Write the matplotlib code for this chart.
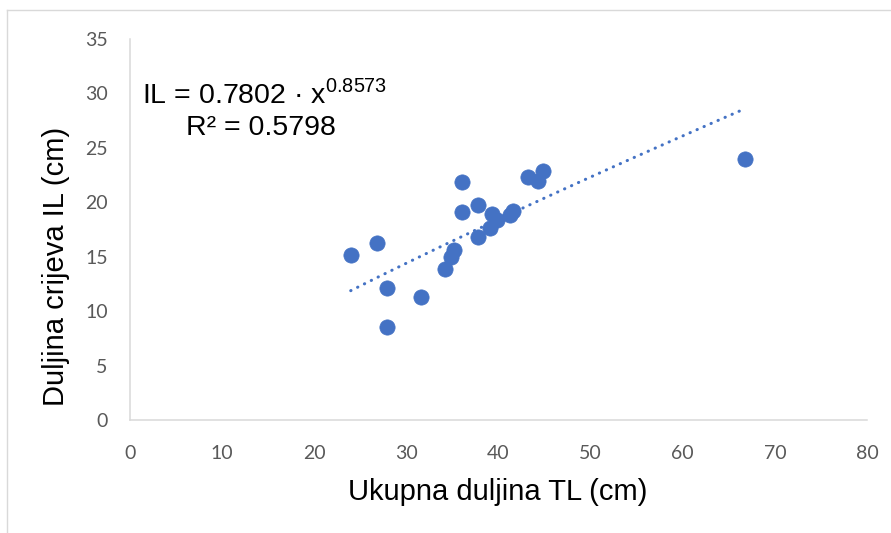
import numpy as np
import matplotlib
matplotlib.use("Agg")
import matplotlib.pyplot as plt
from matplotlib.lines import Line2D

# total length TL (cm) and intestine length IL (cm)
tl = [23.96, 26.85, 27.94, 27.87, 31.56, 34.17, 34.82, 35.18, 36.08, 36.08,
      37.79, 37.79, 39.05, 39.27, 39.82, 41.26, 41.62, 43.21, 44.30, 44.84, 66.78]
il = [15.16, 16.29, 12.15, 8.57, 11.33, 13.84, 14.95, 15.62, 21.89, 19.08,
      19.75, 16.84, 17.67, 18.92, 18.37, 18.83, 19.23, 22.30, 21.98, 22.90, 23.98]

# power trendline coefficients shown on the chart
coef_a = 0.7802
coef_b = 0.8573
r2 = 0.5798

x_ticks = [0, 10, 20, 30, 40, 50, 60, 70, 80]
y_ticks = [0, 5, 10, 15, 20, 25, 30, 35]

blue = "#4472C4"
grey_axis = "#d9d9d9"
grey_text = "#595959"

plt.rcParams['mathtext.fontset'] = 'custom'
plt.rcParams['mathtext.rm'] = 'Liberation Sans'

fig = plt.figure(figsize=(8.91, 5.33), dpi=100)
ax = fig.add_axes([130 / 891, 1 - 420 / 533, 737 / 891, 381 / 533])

# scatter points
ax.scatter(tl, il, s=121, color=blue, edgecolors=blue, linewidths=0.5, zorder=3)

# dotted power trendline
xs = np.linspace(min(tl), max(tl), 200)
ax.plot(xs, coef_a * xs ** coef_b, color=blue, lw=2.2,
        linestyle=(0, (0.1, 2.4)), dash_capstyle='round', zorder=2)

ax.set_xlim(0, 80)
ax.set_ylim(0, 35)
ax.set_xticks(x_ticks)
ax.set_yticks(y_ticks)
ax.tick_params(axis='both', length=0, labelsize=14, labelcolor=grey_text)
ax.tick_params(axis='y', pad=16)
ax.tick_params(axis='x', pad=18)
for lab in ax.get_xticklabels() + ax.get_yticklabels():
    lab.set_fontfamily('Lato')

for side in ['top', 'right']:
    ax.spines[side].set_visible(False)
for side in ['left', 'bottom']:
    ax.spines[side].set_color(grey_axis)
    ax.spines[side].set_linewidth(1.1)

# axis titles
fig.text(498 / 891, 1 - 500 / 533, "Ukupna duljina TL (cm)", ha='center',
         va='baseline', fontsize=21, family='Liberation Sans')
fig.text(56 / 891, 1 - 266 / 533, "Duljina crijeva IL (cm)", ha='center',
         va='center', rotation=90, fontsize=21, family='Liberation Sans')

# trendline equation
fig.text(265 / 891, 1 - 103 / 533,
         "IL = 0.7802 · x$^{\\mathregular{0.8573}}$", ha='center',
         va='baseline', fontsize=20.5, family='Liberation Sans')
fig.text(261 / 891, 1 - 135 / 533, "R² = " + str(r2), ha='center',
         va='baseline', fontsize=20.5, family='Liberation Sans')

# chart area border
fig.add_artist(Line2D([7 / 891, 1], [1 - 10 / 533, 1 - 10 / 533],
                      transform=fig.transFigure, color=grey_axis, lw=1))
fig.add_artist(Line2D([7 / 891, 7 / 891], [0, 1 - 10 / 533],
                      transform=fig.transFigure, color=grey_axis, lw=1))

fig.savefig("out.png", dpi=100)
